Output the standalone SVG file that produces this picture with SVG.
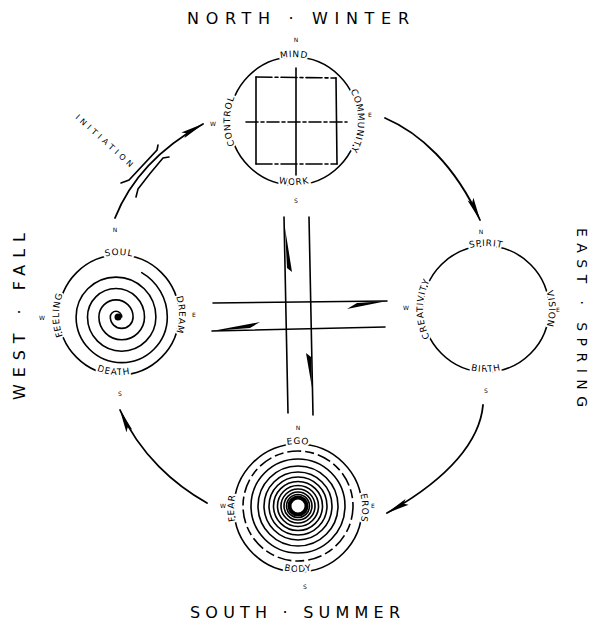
<svg xmlns="http://www.w3.org/2000/svg" width="592" height="623" viewBox="0 0 592 623">
<style>
.ring{fill:none;stroke:#000;stroke-width:1.6}
.ln{fill:none;stroke:#000;stroke-width:1.6;stroke-linecap:round}
.arr{fill:none;stroke:#000;stroke-width:1.8;stroke-linecap:round;marker-end:url(#ah)}
.lbl{font-family:"DejaVu Sans",sans-serif;font-size:9px;letter-spacing:0.8px;fill:#000;stroke:#fff;stroke-width:4;paint-order:stroke;stroke-linejoin:round}
.cp{font-family:"DejaVu Sans",sans-serif;font-size:6px;fill:#000;text-anchor:middle}
.ttl{font-family:"DejaVu Sans",sans-serif;font-size:16px;fill:#000}
</style>
<defs>
<marker id="ah" viewBox="0 0 24 8" markerWidth="24" markerHeight="8" refX="23" refY="4" orient="auto" markerUnits="userSpaceOnUse">
<path d="M0,0.8 L24,4 L0,7.2 L4,4 Z" fill="#000"/>
</marker>
<path id="tcT" d="M230,121 A64,64 0 0 1 358,121"/>
<path id="tcR" d="M294,57 A64,64 0 0 1 294,185"/>
<path id="tcB" d="M230,121 A64,64 0 0 0 358,121"/>
<path id="tcL" d="M294,185 A64,64 0 0 1 294,57"/>
<path id="rcT" d="M423,309 A63,63 0 0 1 549,309"/>
<path id="rcR" d="M486,246 A63,63 0 0 1 486,372"/>
<path id="rcB" d="M423,309 A63,63 0 0 0 549,309"/>
<path id="rcL" d="M486,372 A63,63 0 0 1 486,246"/>
<path id="lcT" d="M59,315 A60,60 0 0 1 179,315"/>
<path id="lcR" d="M119,255 A60,60 0 0 1 119,375"/>
<path id="lcB" d="M59,315 A60,60 0 0 0 179,315"/>
<path id="lcL" d="M119,375 A60,60 0 0 1 119,255"/>
<path id="bcT" d="M234,508 A64,64 0 0 1 362,508"/>
<path id="bcR" d="M298,444 A64,64 0 0 1 298,572"/>
<path id="bcB" d="M234,508 A64,64 0 0 0 362,508"/>
<path id="bcL" d="M298,572 A64,64 0 0 1 298,444"/>
</defs>
<rect width="592" height="623" fill="#fff"/>

<!-- titles -->
<text class="ttl" x="187" y="24" textLength="222" lengthAdjust="spacing">NORTH · WINTER</text>
<text class="ttl" x="190" y="618" textLength="210" lengthAdjust="spacing">SOUTH · SUMMER</text>
<text class="ttl" transform="translate(25,400) rotate(-90)" x="0" y="0" textLength="167" lengthAdjust="spacing">WEST · FALL</text>
<text class="ttl" style="font-size:14px" transform="translate(577,228) rotate(90)" x="0" y="0" textLength="179" lengthAdjust="spacing">EAST · SPRING</text>

<!-- North node -->
<g id="north">
<circle class="ring" cx="294" cy="121" r="64"/>
<line class="ln" x1="256" y1="77" x2="256" y2="164"/>
<line class="ln" x1="336" y1="78" x2="337" y2="164"/>
<line class="ln" x1="256" y1="77" x2="336" y2="78" stroke-dasharray="16 3 3 3"/>
<line class="ln" x1="256" y1="164" x2="337" y2="164" stroke-dasharray="16 3 3 3"/>
<line class="ln" x1="296" y1="68" x2="296" y2="175"/>
<line class="ln" x1="246" y1="122" x2="347" y2="122" stroke-width="1.2" stroke-dasharray="12 3 3 3"/>
<text class="lbl"><textPath href="#tcT" startOffset="50%" text-anchor="middle">MIND</textPath></text>
<text class="lbl"><textPath href="#tcR" startOffset="50%" text-anchor="middle">COMMUNITY</textPath></text>
<text class="lbl"><textPath href="#tcB" startOffset="50%" text-anchor="middle">WORK</textPath></text>
<text class="lbl"><textPath href="#tcL" startOffset="50%" text-anchor="middle">CONTROL</textPath></text>
<text class="cp" x="296" y="42">N</text>
<text class="cp" x="370" y="117">E</text>
<text class="cp" x="296" y="203">S</text>
<text class="cp" x="213" y="126">W</text>
</g>

<!-- East node -->
<g id="east">
<circle class="ring" cx="486" cy="309" r="63"/>
<text class="lbl"><textPath href="#rcT" startOffset="50%" text-anchor="middle">SPIRIT</textPath></text>
<text class="lbl"><textPath href="#rcR" startOffset="50%" text-anchor="middle">VISION</textPath></text>
<text class="lbl"><textPath href="#rcB" startOffset="50%" text-anchor="middle">BIRTH</textPath></text>
<text class="lbl"><textPath href="#rcL" startOffset="50%" text-anchor="middle">CREATIVITY</textPath></text>
<text class="cp" x="481" y="234">N</text>
<text class="cp" x="558" y="312">E</text>
<text class="cp" x="486" y="393">S</text>
<text class="cp" x="406" y="310">W</text>
</g>

<!-- West node -->
<g id="west">
<circle class="ring" cx="119" cy="315" r="60"/>
<path class="ln" d="M121.7,317 A5.7,5.7 0 0 0 110.3,317 A11.4,11.4 0 0 0 133.1,317 A17.1,17.1 0 0 0 98.9,317 A22.8,22.8 0 0 0 144.5,317 A28.5,28.5 0 0 0 87.5,317 A34.2,34.2 0 0 0 155.9,317 A39.9,39.9 0 0 0 76.1,317 A45.6,45.6 0 0 0 167.3,317 A51.3,51.3 0 0 0 141.7,272.6"/>
<circle cx="118" cy="317" r="3.5" fill="#000"/>
<text class="lbl"><textPath href="#lcT" startOffset="50%" text-anchor="middle">SOUL</textPath></text>
<text class="lbl"><textPath href="#lcR" startOffset="50%" text-anchor="middle">DREAM</textPath></text>
<text class="lbl"><textPath href="#lcB" startOffset="47%" text-anchor="middle">DEATH</textPath></text>
<text class="lbl"><textPath href="#lcL" startOffset="50%" text-anchor="middle">FEELING</textPath></text>
<text class="cp" x="115" y="232">N</text>
<text class="cp" x="194" y="317">E</text>
<text class="cp" x="120" y="396">S</text>
<text class="cp" x="42" y="320">W</text>
</g>

<!-- South node -->
<g id="south">
<circle class="ring" cx="298" cy="508" r="64"/>
<circle class="ring" cx="298" cy="506" r="55" stroke-dasharray="14 4 9 4"/>
<circle class="ring" cx="298" cy="506" r="47"/>
<circle class="ring" cx="298" cy="506" r="40"/>
<circle class="ring" cx="298" cy="506" r="34"/>
<circle class="ring" cx="298" cy="506" r="29"/>
<circle class="ring" cx="298" cy="506" r="24.5"/>
<circle class="ring" cx="298" cy="506" r="20.5"/>
<circle class="ring" cx="298" cy="506" r="17"/>
<circle class="ring" cx="298" cy="506" r="14"/>
<circle class="ring" cx="298" cy="506" r="11.5"/>
<circle cx="298" cy="506" r="8.5" fill="none" stroke="#000" stroke-width="4"/>
<circle cx="298" cy="506" r="5" fill="#fff"/>
<text class="lbl"><textPath href="#bcT" startOffset="50%" text-anchor="middle">EGO</textPath></text>
<text class="lbl"><textPath href="#bcR" startOffset="50%" text-anchor="middle">EROS</textPath></text>
<text class="lbl"><textPath href="#bcB" startOffset="50%" text-anchor="middle">BODY</textPath></text>
<text class="lbl"><textPath href="#bcL" startOffset="50%" text-anchor="middle">FEAR</textPath></text>
<text class="cp" x="298" y="430">N</text>
<text class="cp" x="373" y="508">E</text>
<text class="cp" x="305" y="589">S</text>
<text class="cp" x="223" y="508">W</text>
</g>

<!-- connectors -->
<g id="connectors">
<path class="arr" d="M385,118 C420,133 455,165 480,220"/>
<path class="arr" d="M483,405 C480,440 450,478 387,513"/>
<path class="arr" d="M207,503 C175,485 140,455 120,410"/>
<path class="arr" d="M115,218 C130,180 160,148 203,124"/>
<path class="ln" d="M121,183 L129,180 Q143,165 157,150 L158,145"/>
<path class="ln" d="M136,197 L138,189 Q150,173 163,158 L169,157"/>
<text font-family="DejaVu Sans, sans-serif" font-size="8" transform="translate(75,118) rotate(42)" x="0" y="0" textLength="74" lengthAdjust="spacing">INITIATION</text>
<!-- central cross -->
<line class="ln" x1="284" y1="217" x2="288" y2="413"/>
<line class="ln" x1="309" y1="217" x2="313" y2="415"/>
<line class="ln" x1="213" y1="303" x2="387" y2="301" stroke-width="1.3"/>
<line class="ln" x1="212" y1="331" x2="385" y2="327" stroke-width="1.3"/>
<polygon points="285,228 292,272 287,268" fill="#000"/>
<polygon points="306,353 311,357 312,388" fill="#000"/>
<polygon points="387,301 347,309 357,303" fill="#000"/>
<polygon points="212,331 260,322 250,328" fill="#000"/>
</g>
</svg>
